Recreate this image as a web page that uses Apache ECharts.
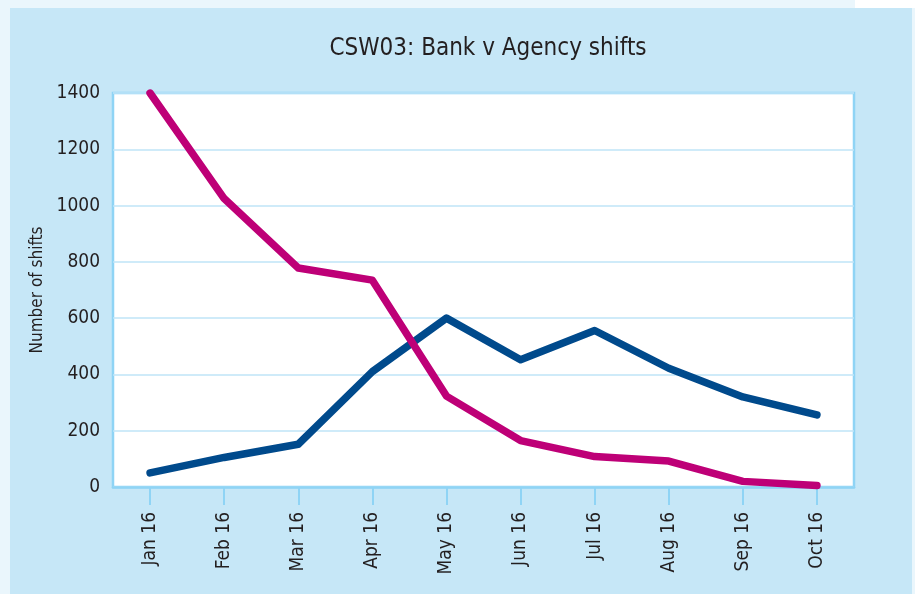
<!DOCTYPE html>
<html>
<head>
<meta charset="utf-8">
<script src="https://cdn.jsdelivr.net/npm/echarts@6/dist/echarts.min.js"></script>
<style>
  html, body { margin: 0; padding: 0; background: #eaf6fc; }
  #main { width: 915px; height: 594px; }
</style>
</head>
<body>
<div id="main"></div>
<script>
// data
var months = ["Jan 16", "Feb 16", "Mar 16", "Apr 16", "May 16", "Jun 16", "Jul 16", "Aug 16", "Sep 16", "Oct 16"];
var agencyShifts = [1400, 1025, 778, 735, 323, 165, 108, 92, 20, 5];
var bankShifts = [50, 105, 152, 410, 600, 452, 556, 422, 320, 256];
var yTicks = [0, 200, 400, 600, 800, 1000, 1200, 1400];

var font = '"Liberation Sans Narrow", "DejaVu Sans Condensed", sans-serif';
var textColor = "#231f20";

var chart = echarts.init(document.getElementById("main"));

var option = {
  backgroundColor: "#eaf6fc",
  animation: false,
  graphic: [
    { type: "rect", shape: { x: 855, y: 0, width: 60, height: 8 }, style: { fill: "#ffffff" }, z: -1 },
    { type: "rect", shape: { x: 10, y: 8, width: 902, height: 586 }, style: { fill: "#c6e7f7" }, z: -1 }
  ],
  title: {
    text: "CSW03: Bank v Agency shifts",
    left: 483,
    top: 32,
    textAlign: "center",
    textStyle: { fontFamily: font, fontSize: 24, fontWeight: "normal", color: textColor }
  },
  grid: {
    left: 113,
    top: 93,
    right: 61,
    bottom: 107,
    show: true,
    backgroundColor: "#ffffff",
    borderColor: "#8fd4f5",
    borderWidth: 2.5
  },
  xAxis: {
    type: "category",
    data: months,
    boundaryGap: true,
    axisLine: { show: true, lineStyle: { color: "#8fd4f5", width: 2.5 } },
    axisTick: { show: true, alignWithLabel: true, length: 18, lineStyle: { color: "#8fd4f5", width: 2 } },
    axisLabel: {
      rotate: 90,
      margin: 25,
      fontFamily: font,
      fontSize: 19,
      color: textColor
    },
    splitLine: { show: false }
  },
  yAxis: {
    type: "value",
    min: 0,
    max: 1400,
    interval: 200,
    name: "Number of shifts",
    nameLocation: "middle",
    nameGap: 62,
    nameRotate: 90,
    nameTextStyle: { fontFamily: font, fontSize: 17, color: textColor },
    axisLine: { show: false },
    axisTick: { show: false },
    axisLabel: {
      margin: 13,
      fontFamily: font,
      fontSize: 19,
      color: textColor,
      formatter: function (v) { return yTicks.indexOf(v) >= 0 ? String(v) : ""; }
    },
    splitLine: { show: true, lineStyle: { color: "#bfe5f7", width: 1.5 } }
  },
  series: [
    {
      name: "Agency",
      type: "line",
      data: agencyShifts,
      symbol: "none",
      lineStyle: { color: "#be0077", width: 7.5, cap: "round", join: "round" },
      itemStyle: { color: "#be0077" },
      z: 3
    },
    {
      name: "Bank",
      type: "line",
      data: bankShifts,
      symbol: "none",
      lineStyle: { color: "#004a8c", width: 7.5, cap: "round", join: "round" },
      itemStyle: { color: "#004a8c" },
      z: 2
    }
  ]
};

chart.setOption(option);
</script>
</body>
</html>
